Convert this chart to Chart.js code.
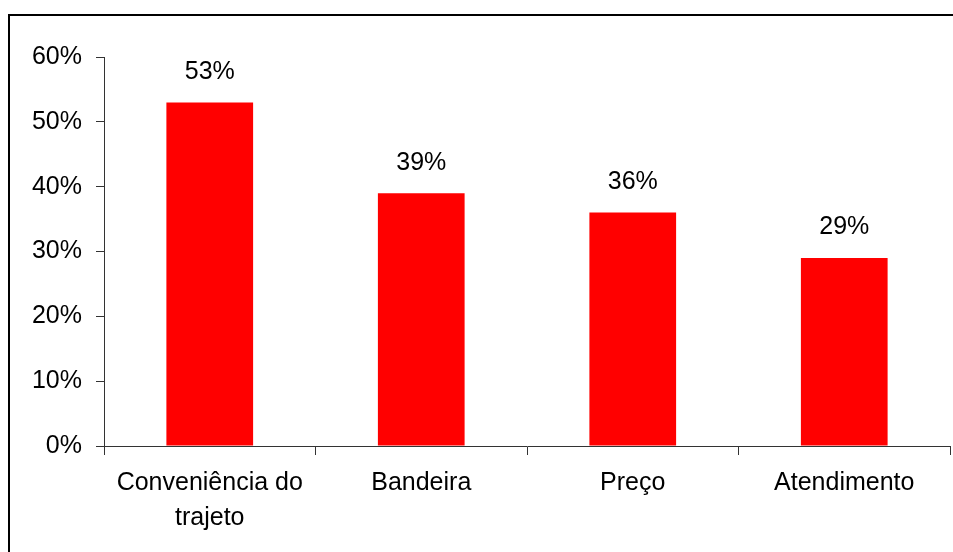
<!DOCTYPE html>
<html>
<head>
<meta charset="utf-8">
<script src="https://cdn.jsdelivr.net/npm/chart.js@4/dist/chart.umd.min.js"></script>
<style>
  html, body { margin: 0; padding: 0; background: #fff; }
  #wrap { position: relative; width: 953px; height: 552px; overflow: hidden; }
  #frame { position: absolute; left: 8px; top: 14px; width: 960px; height: 560px;
           border-left: 2px solid #000; border-top: 2px solid #000; }
  canvas { position: absolute; left: 0; top: 0; }
</style>
</head>
<body>
<div id="wrap">
  <div id="frame"></div>
  <canvas id="chart" width="953" height="552"></canvas>
</div>
<script>
// motivos de escolha do posto (%)
const categorias = [["Conveniência do", "trajeto"], "Bandeira", "Preço", "Atendimento"];
const percentuais = [53, 39, 36, 29];
const ticksY = [0, 10, 20, 30, 40, 50, 60];

const fonte = { family: "'Liberation Sans', Arial, sans-serif", size: 25 };

// escreve o valor em cima de cada barra
const rotulos = {
  id: "rotulos",
  afterDatasetsDraw(chart) {
    const ctx = chart.ctx;
    const meta = chart.getDatasetMeta(0);
    ctx.save();
    ctx.font = fonte.size + "px " + fonte.family;
    ctx.fillStyle = "#000";
    ctx.textAlign = "center";
    ctx.textBaseline = "bottom";
    meta.data.forEach((bar, i) => {
      ctx.fillText(percentuais[i] + "%", bar.x, bar.y - 18);
    });
    ctx.restore();
  }
};

new Chart(document.getElementById("chart"), {
  type: "bar",
  data: {
    labels: categorias,
    datasets: [{
      data: percentuais,
      backgroundColor: "#ff0000",
      borderWidth: 0,
      barPercentage: 0.41,
      categoryPercentage: 1
    }]
  },
  options: {
    responsive: false,
    animation: false,
    layout: { padding: { top: 57, right: 3, left: 0, bottom: 0 } },
    plugins: { legend: { display: false }, tooltip: { enabled: false } },
    scales: {
      x: {
        grid: { offset: true, drawOnChartArea: false, tickLength: 9, color: "#333", lineWidth: 1 },
        border: { color: "#333", width: 1 },
        ticks: { color: "#000", font: { ...fonte, lineHeight: 1.4 }, padding: 11, maxRotation: 0, autoSkip: false },
        afterFit(scale) { scale.height = 106; }
      },
      y: {
        min: 0,
        max: 60,
        afterBuildTicks(scale) { scale.ticks = ticksY.map(v => ({ value: v })); },
        grid: { drawOnChartArea: false, tickLength: 8, color: "#333", lineWidth: 1 },
        border: { color: "#333", width: 1 },
        ticks: { color: "#000", font: fonte, padding: 14, callback: v => v + "%" },
        afterFit(scale) { scale.width = 104; }
      }
    }
  },
  plugins: [rotulos]
});
</script>
</body>
</html>
